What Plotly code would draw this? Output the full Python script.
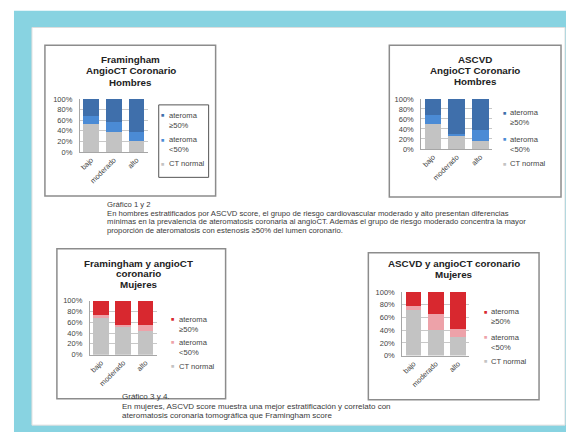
import plotly.graph_objects as go

W, H = 566, 437

categories = ["bajo", "moderado", "alto"]
y_ticks = [0, 20, 40, 60, 80, 100]
y_tick_labels = ["0%", "20%", "40%", "60%", "80%", "100%"]

fram_h_normal = [53, 37, 20]
fram_h_lt50 = [15, 20, 17]
fram_h_ge50 = [32, 43, 63]

ascvd_h_normal = [50, 26, 15]
ascvd_h_lt50 = [18, 4, 22]
ascvd_h_ge50 = [32, 70, 63]

fram_m_normal = [70, 51, 44]
fram_m_lt50 = [3, 4, 11]
fram_m_ge50 = [27, 45, 45]

ascvd_m_normal = [72, 41, 30]
ascvd_m_lt50 = [6, 25, 12]
ascvd_m_ge50 = [22, 34, 58]

legend_labels = ["ateroma<br>≥50%", "ateroma<br>&lt;50%", "CT normal"]

GREY = "#c3c3c3"
BLUE_D = "#3f6fab"
BLUE_L = "#4b8bd5"
RED_D = "#d8282f"
RED_L = "#eda2a9"
TEAL = "#88d3e1"
FONT = "Liberation Sans, Arial, sans-serif"


def px(x):
    return x / W


def py(y):
    return 1 - y / H


charts = [
    dict(vals=(fram_h_normal, fram_h_lt50, fram_h_ge50), cols=(GREY, BLUE_L, BLUE_D),
         dom=(79, 147, 97, 151)),
    dict(vals=(ascvd_h_normal, ascvd_h_lt50, ascvd_h_ge50), cols=(GREY, BLUE_L, BLUE_D),
         dom=(421, 492, 97, 148)),
    dict(vals=(fram_m_normal, fram_m_lt50, fram_m_ge50), cols=(GREY, RED_L, RED_D),
         dom=(89, 156, 303, 358)),
    dict(vals=(ascvd_m_normal, ascvd_m_lt50, ascvd_m_ge50), cols=(GREY, RED_L, RED_D),
         dom=(402, 469, 294, 359)),
]

fig = go.Figure()
layout = {}
for i, ch in enumerate(charts, start=1):
    sfx = "" if i == 1 else str(i)
    for vals, col in zip(ch["vals"], ch["cols"]):
        fig.add_trace(go.Bar(x=categories, y=vals, marker=dict(color=col, line=dict(width=0)),
                             xaxis="x" + sfx, yaxis="y" + sfx, showlegend=False,
                             hoverinfo="skip"))
    x0, x1, y0, y1 = ch["dom"]
    layout["xaxis" + sfx] = dict(domain=[px(x0), px(x1)], anchor="y" + sfx,
                                 tickangle=-45, tickfont=dict(size=7.3, color="#444", family=FONT),
                                 showline=True, linecolor="#a6a6a6", linewidth=1,
                                 showgrid=False, ticks="", fixedrange=True)
    layout["yaxis" + sfx] = dict(domain=[py(y1), py(y0)], anchor="x" + sfx,
                                 range=[0, 100], tickmode="array", tickvals=y_ticks, ticktext=y_tick_labels,
                                 tickfont=dict(size=7.5, color="#444", family=FONT),
                                 showgrid=True, gridcolor="#c8c8c8", gridwidth=1,
                                 showline=True, linecolor="#a6a6a6", linewidth=1,
                                 ticks="", ticklabelstandoff=5, zeroline=False, fixedrange=True)

shapes = []
# teal frame
shapes.append(dict(type="rect", xref="paper", yref="paper", x0=px(13), x1=px(566), y0=py(437), y1=py(7),
                   fillcolor=TEAL, line=dict(width=0), layer="below"))
shapes.append(dict(type="rect", xref="paper", yref="paper", x0=px(31), x1=px(565), y0=py(430), y1=py(24),
                   fillcolor="white", line=dict(color="#dddddd", width=1), layer="below"))
# chart boxes
for (bx0, by0, bx1, by1) in [(44, 42, 215, 196), (389, 42, 561, 197), (56, 250, 225, 403), (368, 254, 539, 404)]:
    shapes.append(dict(type="rect", xref="paper", yref="paper", x0=px(bx0), x1=px(bx1), y0=py(by1), y1=py(by0),
                       line=dict(color="#8c8c8c", width=1.5), fillcolor="rgba(0,0,0,0)", layer="below"))
# legend border of chart 1
shapes.append(dict(type="rect", xref="paper", yref="paper", x0=px(158), x1=px(208), y0=py(177), y1=py(103),
                   line=dict(color="#555555", width=1), fillcolor="rgba(0,0,0,0)", layer="below"))

ann = []


def text(x, y, s, size, bold=False, anchor="left", color="#333", align="left"):
    ann.append(dict(x=px(x), y=py(y), xref="paper", yref="paper", text=("<b>%s</b>" % s) if bold else s,
                    showarrow=False, xanchor=anchor, yanchor="middle", align=align,
                    font=dict(size=size, color=color, family=FONT)))


# titles
for (cx, lines) in [(130, [(57, "Framingham"), (68, "AngioCT Coronario"), (80, "Hombres")]),
                    (475, [(57, "ASCVD"), (68, "AngioCT Coronario"), (79, "Hombres")]),
                    (138, [(265, "Framingham y angioCT"), (275, "coronario"), (286, "Mujeres")]),
                    (454, [(265, "ASCVD y angioCT coronario"), (276, "Mujeres")])]:
    for (ly, s) in lines:
        text(cx, ly, s, 9.8, bold=True, anchor="center", color="#222")

# legends (manual)
legend_pos = [
    (162, 166, [118.5, 143.5, 163], (BLUE_D, BLUE_L, GREY)),
    (504, 508, [116, 143, 163], (BLUE_D, BLUE_L, GREY)),
    (172, 176, [327, 350.5, 370], (RED_D, RED_L, GREY)),
    (485, 489, [319, 345.5, 365], (RED_D, RED_L, GREY)),
]
for mx, tx, ys, cols in legend_pos:
    for lab, yy, col in zip(legend_labels, ys, cols):
        two = "<br>" in lab
        text(mx, yy - (5 if two else 0), "■", 5.5, anchor="center", color=col)
        text(tx, yy, lab, 7.6, color="#444")

# captions
cap1 = ["Gráfico 1 y 2",
        "En hombres estratificados por ASCVD score, el grupo de riesgo cardiovascular moderado y alto presentan diferencias",
        "mínimas en la prevalencia de ateromatosis coronaria al angioCT. Además el grupo de riesgo moderado concentra la mayor",
        "proporción de ateromatosis con estenosis ≥50% del lumen coronario."]
for k, s in enumerate(cap1):
    text(104, 205 + 8.6 * k, s, 7.7, color="#3a3a3a")
cap2 = ["Gráfico 3 y 4.",
        "En mujeres, ASCVD score muestra una mejor estratificación y correlato con",
        "ateromatosis coronaria tomográfica que Framingham score"]
for k, s in enumerate(cap2):
    text(119, 401 + 9.7 * k, s, 8, color="#3a3a3a")

fig.update_layout(**layout)
fig.update_layout(width=W, height=H, margin=dict(l=0, r=0, t=0, b=0), autosize=False,
                  paper_bgcolor="white", plot_bgcolor="rgba(0,0,0,0)",
                  barmode="stack", bargap=0.3, showlegend=False,
                  shapes=shapes, annotations=ann, font=dict(family=FONT))
fig.write_html("out.html", config=dict(displayModeBar=False))
